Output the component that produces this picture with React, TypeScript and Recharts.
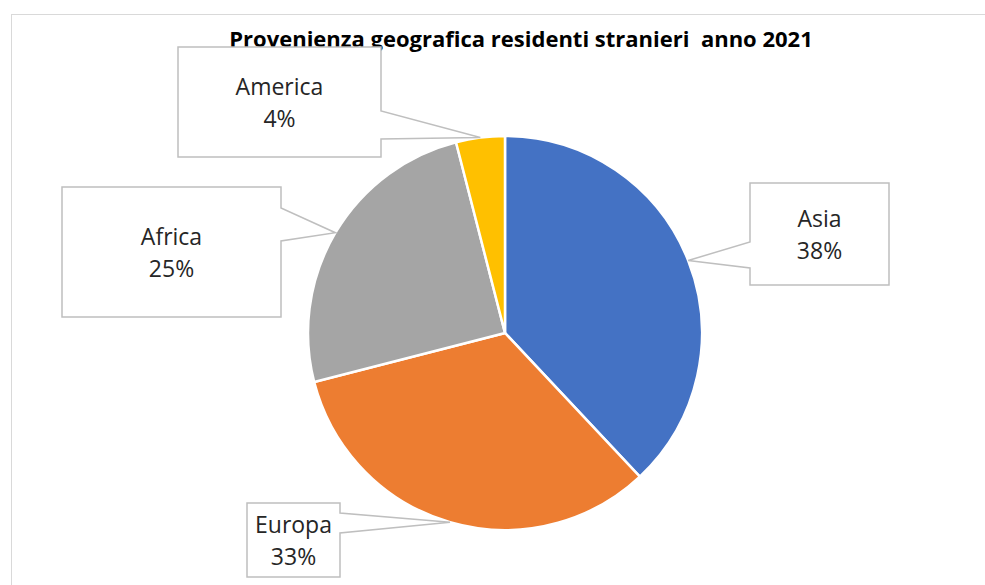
import { PieChart, Pie, Cell } from 'recharts';

const regions = ['Asia', 'Europa', 'Africa', 'America'];
const shares = [38, 33, 25, 4];
const colors = ['#4472C4', '#ED7D31', '#A5A5A5', '#FFC000'];

const data = regions.map((name, i) => ({ name, value: shares[i] }));

// callout boxes: x, y, w, h, which side the pointer leaves from, pointer base y's
const boxes: Record<string, { x: number; y: number; w: number; h: number; side: 'left' | 'right'; y1: number; y2: number }> = {
  Asia: { x: 750, y: 183, w: 139, h: 102, side: 'left', y1: 242, y2: 268 },
  Europa: { x: 247, y: 503, w: 93, h: 74, side: 'right', y1: 513, y2: 533 },
  Africa: { x: 62, y: 187, w: 219, h: 130, side: 'right', y1: 208, y2: 241 },
  America: { x: 178, y: 47, w: 203, h: 110, side: 'right', y1: 111, y2: 139 },
};

const RAD = Math.PI / 180;

function Callout(props: any) {
  const { cx, cy, midAngle, outerRadius, name, percent } = props;
  const b = boxes[name];
  if (!b) return null;
  const tx = cx + outerRadius * Math.cos(-midAngle * RAD);
  const ty = cy + outerRadius * Math.sin(-midAngle * RAD);
  const r = b.x + b.w;
  const bot = b.y + b.h;
  let d: string;
  if (b.side === 'right') {
    d = `M${b.x},${b.y} L${r},${b.y} L${r},${b.y1} L${tx},${ty} L${r},${b.y2} L${r},${bot} L${b.x},${bot} Z`;
  } else {
    d = `M${b.x},${b.y} L${r},${b.y} L${r},${bot} L${b.x},${bot} L${b.x},${b.y2} L${tx},${ty} L${b.x},${b.y1} Z`;
  }
  const mx = b.x + b.w / 2;
  const my = b.y + b.h / 2;
  return (
    <g>
      <path d={d} fill="#fff" stroke="#bfbfbf" strokeWidth={1.5} />
      <text x={mx} y={my - 7} textAnchor="middle" fontFamily="Open Sans" fontSize={23} fill="#262626">
        {name}
      </text>
      <text x={mx} y={my + 25} textAnchor="middle" fontFamily="Open Sans" fontSize={23} fill="#262626">
        {`${Math.round(percent * 100)}%`}
      </text>
    </g>
  );
}

export default function App() {
  return (
    <div style={{ position: 'absolute', left: 0, top: 0, width: 985, height: 585, background: '#fff', overflow: 'hidden' }}>
      <div
        style={{
          position: 'absolute',
          left: 11,
          top: 14,
          width: 1000,
          height: 600,
          borderTop: '1px solid #d9d9d9',
          borderLeft: '1px solid #d9d9d9',
        }}
      />
      <PieChart
        width={985}
        height={585}
        margin={{ top: 0, right: 0, bottom: 0, left: 0 }}
        style={{ position: 'absolute', left: 0, top: 0 }}
      >
        <text
          x={521}
          y={47}
          textAnchor="middle"
          fontFamily="Open Sans"
          fontWeight="bold"
          fontSize={22}
          fill="#000"
          style={{ whiteSpace: 'pre' }}
        >
          Provenienza geografica residenti stranieri  anno 2021
        </text>
        <Pie
          data={data}
          dataKey="value"
          nameKey="name"
          cx={505}
          cy={333}
          outerRadius={197}
          startAngle={90}
          endAngle={-270}
          stroke="#fff"
          strokeWidth={2.5}
          labelLine={false}
          label={Callout}
          isAnimationActive={false}
        >
          {data.map((d, i) => (
            <Cell key={d.name} fill={colors[i]} />
          ))}
        </Pie>
      </PieChart>
    </div>
  );
}
